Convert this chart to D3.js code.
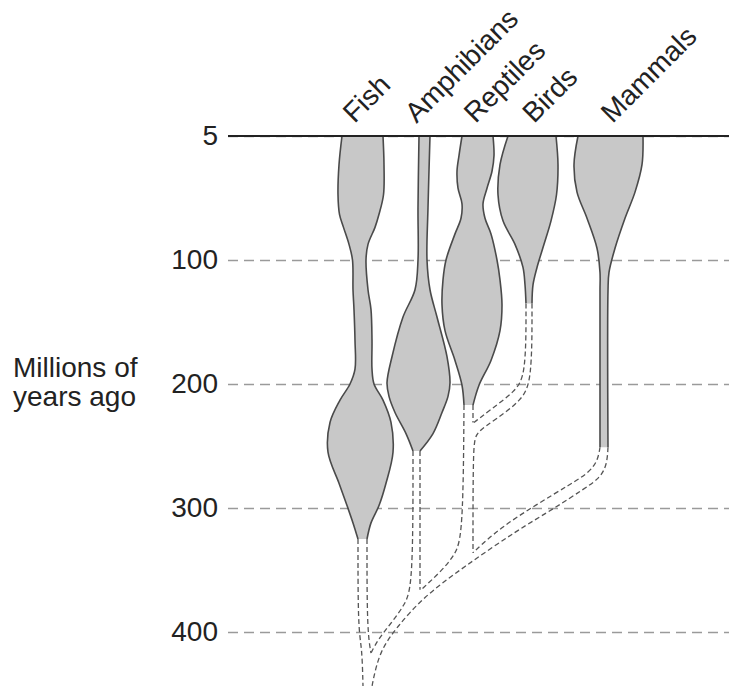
<!DOCTYPE html>
<html lang="en">
<head>
  <meta charset="UTF-8">
  <title>Spindle diagram</title>
  <script src="https://cdn.jsdelivr.net/npm/d3@7"></script>
  <style>
    body { margin: 0; background: #fff; }
    text { font-family: "Liberation Sans", Arial, sans-serif; }
  </style>
</head>
<body>
<script>
  // names and axis text
  const lineages = ['Fish', 'Amphibians', 'Reptiles', 'Birds', 'Mammals'];
  const tickAges = [5, 100, 200, 300, 400];
  const tickLabels = ['5', '100', '200', '300', '400'];
  const axisTitle = ['Millions of', 'years ago'];

  // spindles: [age (Ma), left edge, right edge] in lineage-space units
  const fishSpindle = [
    [5, 5.5, 15.75], [27, 4.75, 16], [50, 4.5, 15.875], [65, 4.875, 14.75], [75, 5.875, 13.75],
    [88, 7.25, 12], [100, 8.125, 11.5], [124, 8.25, 12], [140, 8.5, 12.75], [165, 8.75, 13],
    [188, 8.75, 13], [200, 7.5, 13.5], [213, 5, 15.75], [231, 2.5, 17.75], [255, 2, 18.25],
    [280, 4.75, 16.5], [298, 6.75, 14.75], [312, 8.25, 12.75], [325, 9.5, 11.75]
  ];
  const amphibianSpindle = [
    [5, 24.75, 27.5], [60, 24.5, 27], [100, 24.5, 26.75], [124, 23.75, 27.5], [146, 20.75, 29.25],
    [178, 18, 31.75], [199, 16.75, 32.5], [210, 17.25, 32], [223, 18.75, 30.5], [240, 21.5, 28.25],
    [254, 23.25, 25]
  ];
  const reptileSpindle = [
    [5, 35.5, 43.25], [20, 34.75, 43.5], [32, 34.25, 43], [45, 34.5, 41.75], [57, 35.5, 40.75],
    [68, 35.25, 41.25], [80, 33.75, 42.75], [100, 31.5, 44.25], [116, 30.75, 45],
    [136, 30.5, 45.5], [157, 31.25, 45], [181, 33.75, 42.75], [201, 35.5, 39.75], [217, 36, 38.25]
  ];
  const birdSpindle = [
    [5, 47, 59], [27, 45, 59.5], [50, 44.5, 59.125], [70, 45.75, 57.75], [88, 48.75, 56],
    [106, 50.75, 54.25], [120, 51.25, 53.25], [135, 51.5, 53]
  ];
  const mammalSpindle = [
    [5, 64.5, 80.75], [27, 63.5, 80.5], [48, 64.25, 78.75], [68, 66.75, 76.25], [91, 69.25, 73.75],
    [110, 70, 72.25], [125, 70, 72], [251, 70, 72]
  ];
  const spindles = [fishSpindle, amphibianSpindle, reptileSpindle, birdSpindle, mammalSpindle];

  // inferred ancestry, drawn as dashed tube walls: [age (Ma), position]
  const fishLeftWall = [[325, 9.5], [398, 9.5], [412, 10.5], [444, 10.75]];
  const fishRightWall = [[325, 11.75], [398, 11.75], [417, 12.75]];
  const amphibianLeftWall = [[254, 23.25], [362, 23.25], [378, 21.25], [394, 17.5], [406, 14.5], [417, 12.75]];
  const amphibianRightWall = [[254, 25], [366, 25]];
  const reptileLeftWall = [[217, 36], [322, 35.75], [338, 33.75], [352, 30], [366, 25.25]];
  const reptileRightWall = [[217, 38.25], [231, 38.25]];
  const birdInnerWall = [[135, 51.5], [193, 51.5], [206, 48.75], [221, 42.5], [231, 38.5]];
  const birdOuterWall = [[135, 53], [197, 53], [213, 50.5], [229, 43.75], [239, 39], [249, 38.25], [336, 38.25]];
  const mammalUpperWall = [[251, 70], [261, 69.5], [271, 67.5], [281, 62.5], [297, 54.25], [316, 45], [336, 38.25]];
  const mammalLowerWall = [[251, 72], [265, 71.75], [276, 70], [285, 65.75], [299, 59.25], [318, 49.25],
    [348, 35.75], [372, 25.75], [396, 19.25], [415, 15], [439, 13.25], [444, 13]];
  const walls = [fishLeftWall, fishRightWall, amphibianLeftWall, amphibianRightWall, reptileLeftWall,
    reptileRightWall, birdInnerWall, birdOuterWall, mammalUpperWall, mammalLowerWall];

  function drawChart() {
    const width = 729;
    const height = 686;
    const axisX = 228;
    const labelNudge = [-8, -8, -2, 2, 2];

    // top band (to 100 Ma) is drawn compressed, as in the original figure
    const y = d3.scaleLinear().domain([5, 100, 400]).range([136, 260, 632]);
    const x = d3.scaleLinear().domain([0, 100]).range([320, 720]);

    const svg = d3.select('body').append('svg')
      .attr('width', width)
      .attr('height', height);

    const yAxis = g => g
      .attr('transform', `translate(${axisX},0)`)
      .call(d3.axisLeft(y)
        .tickValues(tickAges)
        .tickFormat((d, i) => tickLabels[i])
        .tickSize(-(width - axisX))
        .tickPadding(10))
      .call(g => g.select('.domain').remove())
      .call(g => g.selectAll('line')
        .attr('stroke', '#9a9a9a')
        .attr('stroke-width', 1.5)
        .attr('stroke-dasharray', '10,6'))
      .call(g => g.selectAll('text')
        .attr('fill', '#222')
        .style('font-size', '28px'));

    svg.append('g').call(yAxis);

    const smooth = d3.curveCatmullRom.alpha(0.5);

    const area = d3.area()
      .curve(smooth)
      .y(d => y(d[0]))
      .x0(d => x(d[1]))
      .x1(d => x(d[2]));

    const leftEdge = d3.line().curve(smooth).x(d => x(d[1])).y(d => y(d[0]));
    const rightEdge = d3.line().curve(smooth).x(d => x(d[2])).y(d => y(d[0]));
    const wall = d3.line().curve(d3.curveBasis).x(d => x(d[1])).y(d => y(d[0]));

    svg.append('g').selectAll('path')
      .data(walls)
      .join('path')
      .attr('fill', 'none')
      .attr('stroke', '#555')
      .attr('stroke-width', 1.3)
      .attr('stroke-dasharray', '5,3')
      .attr('d', wall);

    const sp = svg.append('g').selectAll('g')
      .data(spindles)
      .join('g');

    sp.append('path')
      .attr('fill', '#c8c8c8')
      .attr('d', area);

    sp.append('path')
      .attr('fill', 'none')
      .attr('stroke', '#4a4a4a')
      .attr('stroke-width', 1.6)
      .attr('d', leftEdge);

    sp.append('path')
      .attr('fill', 'none')
      .attr('stroke', '#4a4a4a')
      .attr('stroke-width', 1.6)
      .attr('d', rightEdge);

    // present-day line over the spindle tops
    svg.append('line')
      .attr('x1', axisX)
      .attr('x2', width)
      .attr('y1', y(tickAges[0]))
      .attr('y2', y(tickAges[0]))
      .attr('stroke', '#222')
      .attr('stroke-width', 2);

    svg.append('g').selectAll('text')
      .data(lineages)
      .join('text')
      .attr('transform', (d, i) => {
        const top = spindles[i][0];
        const cx = (x(top[1]) + x(top[2])) / 2 + labelNudge[i];
        return `translate(${cx},${y(tickAges[0]) - 12}) rotate(-45)`;
      })
      .attr('fill', '#222')
      .style('font-size', '28px')
      .text(d => d);

    svg.append('text')
      .attr('fill', '#222')
      .style('font-size', '28px')
      .selectAll('tspan')
      .data(axisTitle)
      .join('tspan')
      .attr('x', 13)
      .attr('y', (d, i) => 377 + i * 29)
      .text(d => d);
  }

  drawChart();
</script>
</body>
</html>
